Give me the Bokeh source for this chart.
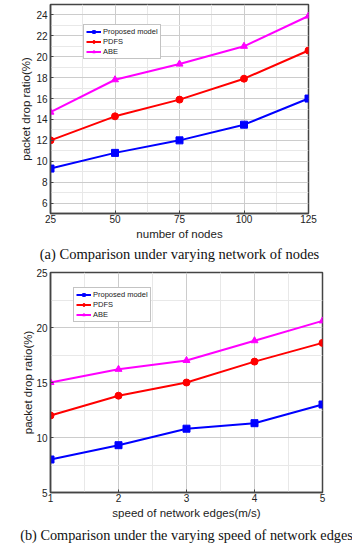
from bokeh.plotting import figure
from bokeh.models import FixedTicker, Legend, LegendItem, Title, Range1d
from bokeh.layouts import column
from bokeh.embed import file_html
from bokeh.resources import INLINE

# chart (a)
nodes = [25, 50, 75, 100, 125]
a_proposed = [9.3, 10.8, 12.0, 13.5, 16.0]
a_pdfs = [12.0, 14.3, 15.9, 17.9, 20.6]
a_abe = [14.7, 17.8, 19.3, 21.0, 23.9]
a_yticks = [6, 8, 10, 12, 14, 16, 18, 20, 22, 24]

# chart (b)
speed = [1, 2, 3, 4, 5]
b_proposed = [8.0, 9.3, 10.8, 11.3, 13.0]
b_pdfs = [12.0, 13.8, 15.0, 16.9, 18.6]
b_abe = [15.0, 16.2, 17.0, 18.8, 20.6]
b_yticks = [5, 10, 15, 20, 25]

names = ["Proposed model", "PDFS", "ABE"]
colors = ["#0000FF", "#FF0000", "#FF00FF"]
markers = ["square", "circle", "triangle"]

SANS = "Liberation Sans"
SERIF = "Liberation Serif"


def make(xs, series, xr, yr, xt, xminor, yt, yminor, xlabel, caption,
         fw, fh, bl, br, bt, leg_loc, cap_standoff, cap_size, ylab_standoff):
    p = figure(frame_width=fw, frame_height=fh, output_backend="svg",
               toolbar_location=None,
               x_range=Range1d(*xr), y_range=Range1d(*yr),
               min_border_left=bl, min_border_right=br,
               min_border_top=bt, min_border_bottom=0)
    p.outline_line_color = "#444444"
    p.outline_line_width = 1.5
    p.xaxis.ticker = FixedTicker(ticks=xt, minor_ticks=xminor)
    p.yaxis.ticker = FixedTicker(ticks=yt, minor_ticks=yminor)
    for ax in (p.xaxis[0], p.yaxis[0]):
        ax.axis_line_color = "#444444"
        ax.axis_line_width = 1.5
        ax.major_tick_in = 3
        ax.major_tick_out = 0
        ax.minor_tick_in = 0
        ax.minor_tick_out = 0
        ax.major_tick_line_color = "#444444"
        ax.major_label_text_font = SANS
        ax.major_label_text_font_size = "10px"
        ax.major_label_text_color = "#222222"
        ax.axis_label_text_font = SANS
        ax.axis_label_text_font_size = "11.5px"
        ax.axis_label_text_font_style = "normal"
        ax.axis_label_text_color = "#222222"
    p.xaxis.major_label_standoff = 1
    p.xaxis.axis_label_standoff = 2
    p.yaxis.major_label_standoff = 3
    p.yaxis.axis_label_standoff = ylab_standoff
    p.xaxis.axis_label = xlabel
    p.yaxis.axis_label = "packet drop ratio(%)"
    for g in (p.xgrid[0], p.ygrid[0]):
        g.grid_line_color = "#cccccc"
        g.grid_line_width = 1
        g.minor_grid_line_color = "#e8e8e8"
        g.minor_grid_line_width = 1

    items = []
    for ys, name, c, m in zip(series, names, colors, markers):
        l = p.line(xs, ys, line_color=c, line_width=2)
        s = p.scatter(xs, ys, marker=m, size=7, fill_color=c, line_color=c)
        items.append(LegendItem(label=name, renderers=[l, s]))
    leg = Legend(items=items, location=leg_loc)
    leg.label_text_font = SANS
    leg.label_text_font_size = "7.5px"
    leg.label_text_color = "#222222"
    leg.label_height = 7
    leg.glyph_height = 7
    leg.glyph_width = 15
    leg.label_standoff = 2
    leg.spacing = 1
    leg.padding = 2
    leg.margin = 0
    leg.border_line_color = "#888888"
    leg.border_line_width = 1
    leg.background_fill_alpha = 1
    p.add_layout(leg)

    t = Title(text=caption, align="center", text_font=SERIF,
              text_font_size=cap_size, text_font_style="normal",
              text_color="#111111", standoff=cap_standoff)
    p.add_layout(t, "below")
    return p


pa = make(nodes, [a_proposed, a_pdfs, a_abe], (25, 125), (5, 25),
          nodes, [37.5, 62.5, 87.5, 112.5], a_yticks,
          [5, 7, 9, 11, 13, 15, 17, 19, 21, 23, 25],
          "number of nodes", "(a) Comparison under varying network of nodes",
          258, 209, 50, 44, 4, (33, 154), 2, "14.5px", 1)

pb = make(speed, [b_proposed, b_pdfs, b_abe], (1, 5), (5, 25),
          speed, [1.5, 2.5, 3.5, 4.5], b_yticks,
          [7.5, 12.5, 17.5, 22.5],
          "speed of network edges(m/s)",
          "(b) Comparison under the varying speed of network edges",
          272, 220, 46, 34, 10, (23, 170), 7, "14.3px", -1)

layout = column(pa, pb, spacing=0)
open("out.html", "w").write(file_html(layout, INLINE))
